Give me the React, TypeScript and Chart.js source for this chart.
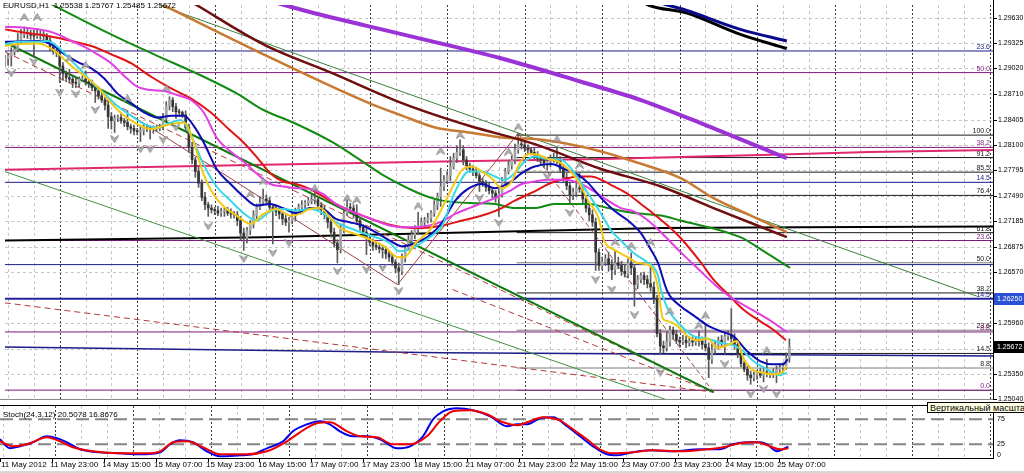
import React, { useEffect, useRef } from "react";
import { Chart, registerables } from "chart.js";

Chart.register(...registerables);

const FONT = '"Liberation Sans", Arial, sans-serif';

// ---- price model: values stored in pips above BASE ----
const BASE = 1.25;
const PIP = 0.0001;
const px = (p: number) => BASE + p * PIP;

const SYMBOL = "EURUSD,H1";
const LAST_OHLC = [1.25538, 1.25767, 1.25485, 1.25672];
const ALERT_PRICE = 1.2625;
const STOCH_TITLE = "Stoch(24,3,12) 20.5078 16.8676";
const TOOLTIP_TEXT = "Вертикальный масштаб";

// bars are H1, index 0 = 14 May 00:00
const FIRST_BAR = -17;
const FIRST_OPEN = 410;
const closes = [
  414, 417, 422, 425, 436, 443, 445, 444,
  442, 441, 442, 443, 441, 436, 428, 423,
  421, 405, 396, 391, 389, 385, 384, 389,
  389, 386, 384, 379, 375, 369, 364, 358,
  344, 339, 342, 343, 339, 337, 332, 330,
  327, 326, 327, 331, 330, 329, 330, 330,
  332, 342, 357, 364, 356, 350, 349, 346,
  331, 307, 292, 278, 264, 247, 238, 234,
  232, 231, 228, 230, 231, 228, 227, 226,
  219, 204, 198, 207, 214, 225, 235, 241,
  245, 243, 235, 231, 230, 227, 221, 217,
  219, 225, 231, 235, 238, 240, 243, 244,
  244, 237, 232, 226, 217, 205, 192, 184,
  209, 228, 235, 234, 228, 219, 211, 205,
  198, 193, 189, 187, 185, 184, 179, 175,
  169, 162, 158, 174, 186, 195, 202, 209,
  213, 217, 219, 222, 228, 238, 248, 260,
  267, 273, 284, 294, 301, 304, 292, 285,
  281, 278, 273, 266, 264, 259, 255, 252,
  246, 251, 266, 278, 285, 292, 304, 311,
  310, 306, 304, 301, 298, 294, 292, 288,
  290, 292, 293, 292, 281, 271, 261, 250,
  253, 258, 257, 245, 234, 226, 217, 181,
  165, 169, 173, 166, 160, 168, 165, 158,
  155, 168, 162, 142, 148, 153, 148, 143,
  139, 125, 83, 68, 66, 73, 87, 82,
  75, 73, 75, 72, 74, 73, 76, 74,
  70, 66, 52, 63, 70, 75, 72, 80,
  82, 77, 70, 59, 47, 40, 33, 30,
  33, 36, 33, 37, 35, 36, 34, 40,
  42, 44, 53.8, 67.2,
];
const upWick = [
  4, 3, 5, 6, 8, 6, 7, 5,
  4, 6, 8, 5, 4, 3, 5, 4,
  3, 5, 4, 3, 10, 4, 5, 3,
  4, 10, 3, 4, 3, 5, 4, 3,
  8, 5, 4, 3, 4, 3, 14, 3,
  4, 3, 5, 3, 4, 3, 3, 4,
  3, 6, 5, 4, 3, 4, 3, 2,
  5, 4, 6, 3, 5, 4, 6, 3,
  4, 3, 5, 4, 3, 4, 5, 3,
  4, 5, 6, 4, 5, 6, 4, 7,
  12, 5, 4, 3, 6, 4, 3, 5,
  4, 5, 3, 4, 5, 3, 4, 6,
  8, 3, 4, 5, 3, 4, 5, 4,
  6, 7, 9, 5, 4, 10, 4, 3,
  4, 3, 4, 3, 5, 3, 4, 3,
  4, 3, 6, 5, 4, 6, 5, 4,
  16, 5, 4, 6, 3, 5, 4, 22,
  6, 5, 12, 6, 8, 12, 5, 4,
  3, 4, 5, 3, 4, 3, 5, 4,
  3, 6, 5, 4, 6, 5, 7, 13,
  6, 5, 4, 3, 5, 4, 3, 4,
  5, 6, 7, 14, 4, 6, 5, 4,
  5, 9, 18, 3, 4, 5, 6, 5,
  4, 6, 5, 8, 6, 14, 7, 5,
  8, 5, 12, 4, 5, 3, 4, 5,
  22, 6, 4, 5, 6, 12, 5, 4,
  5, 4, 6, 5, 4, 5, 3, 10,
  5, 24, 6, 8, 5, 4, 6, 5,
  4, 31, 6, 5, 4, 3, 4, 5,
  4, 3, 5, 6, 15, 3, 5, 4,
  5, 4, 6, 9.5,
];
const downWick = [
  6, 8, 12, 4, 3, 5, 4, 6,
  5, 26, 3, 5, 6, 4, 5, 4,
  5, 20, 8, 5, 4, 6, 5, 4,
  3, 4, 5, 4, 14, 4, 3, 6,
  14, 10, 14, 4, 3, 5, 4, 6,
  5, 4, 12, 5, 4, 12, 5, 4,
  3, 4, 3, 5, 6, 8, 5, 3,
  4, 6, 5, 7, 5, 4, 6, 10,
  4, 5, 3, 4, 6, 3, 5, 4,
  6, 8, 15, 6, 5, 4, 5, 3,
  4, 5, 6, 40, 5, 6, 7, 4,
  12, 4, 6, 3, 5, 4, 3, 4,
  5, 4, 6, 5, 7, 6, 5, 16,
  4, 5, 3, 4, 6, 5, 4, 3,
  20, 4, 6, 3, 5, 10, 6, 5,
  4, 6, 16, 4, 5, 3, 4, 5,
  6, 4, 5, 3, 5, 4, 6, 12,
  5, 4, 6, 3, 5, 4, 6, 5,
  4, 5, 3, 12, 4, 5, 4, 6,
  5, 22, 4, 5, 3, 4, 5, 4,
  5, 4, 6, 3, 5, 4, 6, 5,
  8, 6, 3, 5, 4, 6, 5, 12,
  6, 5, 4, 6, 5, 7, 5, 22,
  6, 5, 4, 8, 12, 6, 4, 5,
  4, 5, 8, 26, 5, 4, 6, 5,
  5, 6, 4, 10, 6, 4, 5, 6,
  4, 5, 3, 6, 4, 5, 4, 6,
  5, 4, 22, 5, 4, 6, 5, 14,
  5, 4, 6, 5, 4, 3, 6, 8,
  4, 5, 3, 8, 4, 5, 4, 10,
  5, 6, 4, 5.3,
];

// fractal marks [bar, pip]
const fractalUp = [
  [-11, 464], [-7, 464], [3, 414], [8, 406], [21, 366], [33, 378], [59, 251], [63, 266],
  [79, 258], [89, 246], [92, 244], [111, 237], [118, 303], [124, 322], [139, 302], [142, 332],
  [154, 317], [161, 286], [172, 193], [177, 189], [183, 193], [189, 110], [198, 93], [200, 105], [219, 63],
];
const fractalDown = [
  [-15, 396], [-8, 410], [0, 373], [5, 371], [11, 352], [17, 317], [25, 305], [28, 305],
  [32, 316], [36, 331], [46, 212], [57, 173], [66, 180], [71, 192], [86, 158], [95, 160],
  [100, 162], [105, 134], [130, 246], [136, 216], [151, 272], [158, 228], [166, 148], [171, 136],
  [178, 105], [186, 36], [206, 46], [214, 10], [218, 16], [222, 10],
];

// moving averages [bar, pip]
const maYellow = [
  [-16.9, 429], [-13.8, 431], [-6.8, 432], [-1.5, 423], [2.2, 410], [4.6, 402], [7.7, 393], [11.7, 380],
  [16, 360], [20, 345], [24, 335], [28.3, 329], [32.3, 333], [38.5, 337], [41.5, 313], [44.6, 274],
  [47.7, 250], [50.8, 236], [54.8, 225], [59.1, 215], [63.1, 227], [67.1, 233], [71.4, 225], [74.5, 227],
  [77.5, 233], [80.6, 234], [83.7, 223], [86.8, 210], [89.8, 205], [92.9, 201], [96.9, 195], [100.9, 187],
  [104.6, 175], [106.8, 175], [110.2, 192], [114.5, 207], [117.5, 227], [121.5, 258], [124.6, 280], [127.7, 284],
  [130.8, 278], [133.8, 270], [136.9, 258], [140, 266], [142.2, 286], [145.2, 299], [148.3, 298], [151.4, 293],
  [154.5, 290], [157.5, 281], [160.6, 266], [163.7, 243], [166.8, 223], [168.6, 195], [171.7, 184], [176, 175],
  [179.1, 168], [183.1, 164], [185.2, 140], [186.8, 101], [188.3, 98], [191.4, 92], [194.5, 80], [197.5, 75],
  [200.6, 77], [203.7, 66], [206.8, 69], [209.8, 74], [211.7, 54], [214.8, 39], [217.8, 36], [220.9, 34],
  [223.7, 36], [225.2, 44],
];
const maCyan = [
  [-16.9, 431], [-12.9, 434], [-6.8, 434], [-3.7, 435], [-0.6, 428], [3.7, 411], [6.8, 399], [9.8, 386],
  [13.8, 372], [17.8, 357], [22.2, 345], [26.2, 335], [30.2, 331], [34.5, 337], [37.5, 340], [40.6, 322],
  [44.6, 286], [48.6, 260], [52.9, 243], [56.9, 228], [60.9, 219], [65.2, 230], [69.2, 233], [73.2, 231],
  [77.5, 233], [81.5, 228], [85.5, 217], [89.8, 210], [93.8, 204], [97.8, 199], [102.2, 192], [105.2, 182],
  [108.3, 184], [112.3, 193], [116.3, 204], [118.5, 213], [122.5, 254], [126.8, 278], [130.8, 278], [134.8, 272],
  [137.8, 268], [140.9, 276], [144, 290], [147.1, 296], [151.4, 293], [155.4, 292], [158.5, 281], [161.5, 264],
  [164.6, 246], [167.7, 227], [170.8, 207], [173.8, 195], [177.8, 180], [182.2, 168], [185.2, 154], [186.2, 136],
  [188.3, 113], [192.3, 93], [196.3, 80], [200.6, 77], [204.6, 72], [208.6, 69], [211.7, 62], [214.8, 50],
  [219.1, 40], [223.1, 33], [225.2, 36],
];
const maBlue = [
  [-16.9, 434], [-6.8, 435], [-2.5, 431], [1.5, 419], [5.5, 410], [9.8, 402], [13.8, 390], [17.8, 372],
  [22.2, 360], [26.2, 349], [30.2, 343], [34.5, 345], [38.5, 345], [41.5, 333], [44.6, 313], [48.6, 281],
  [52.9, 263], [56.9, 248], [60.9, 237], [65.2, 239], [69.2, 234], [73.2, 228], [77.5, 234], [81.5, 233],
  [85.5, 221], [89.8, 217], [93.8, 213], [97.8, 205], [102.2, 195], [106.2, 188], [110.2, 192], [114.5, 201],
  [118.5, 217], [122.5, 243], [126.8, 258], [130.8, 263], [134.8, 258], [139.1, 264], [143.1, 276], [147.1, 284],
  [152.3, 287], [156.3, 281], [160.6, 274], [163.7, 264], [167.7, 246], [171.7, 231], [176, 219], [180, 204],
  [183.1, 184], [185.2, 169], [188.3, 133], [192.3, 116], [196.3, 105], [200.6, 93], [204.6, 86], [208.6, 80],
  [212.9, 62], [216.9, 50], [220.9, 46], [224, 46], [225.5, 52],
];
const maMagenta = [
  [-16.9, 452], [-10.8, 451], [-3.7, 447], [-0.6, 443], [3.7, 435], [7.7, 428], [11.7, 419], [16, 408],
  [20, 393], [24, 380], [28.3, 376], [32.3, 375], [36.3, 370], [40.6, 364], [44.6, 349], [48.6, 319],
  [52.9, 302], [56.9, 290], [60.9, 276], [65.2, 263], [69.2, 260], [73.2, 258], [77.5, 257], [81.5, 251],
  [85.5, 239], [89.8, 231], [93.8, 225], [97.8, 219], [102.2, 213], [106.2, 211], [110.2, 211], [114.5, 213],
  [118.5, 218], [122.5, 227], [126.8, 234], [130.8, 240], [134.8, 246], [139.1, 254], [143.1, 263], [147.1, 266],
  [151.4, 268], [156.3, 268], [161.5, 263], [165.5, 254], [169.8, 243], [173.8, 234], [177.8, 230], [182.2, 219],
  [186.2, 205], [192.3, 181], [198.5, 158], [203.7, 139], [207.7, 127], [214.8, 111], [220, 99], [225.2, 85],
];
const maRed = [
  [-16.9, 449], [-10.8, 445], [-3.7, 441], [3.7, 435], [9.8, 429], [16, 419], [22.2, 408], [28.3, 392],
  [34.5, 378], [40.6, 366], [46.8, 349], [52.9, 327], [56.9, 313], [60.9, 296], [65.2, 276], [69.2, 266],
  [73.2, 263], [77.5, 257], [81.5, 248], [85.5, 239], [89.8, 231], [93.8, 225], [97.8, 219], [102.2, 214],
  [106.2, 211], [112.3, 210], [118.5, 213], [124.6, 219], [130.8, 225], [136.9, 234], [140.9, 243], [147.1, 254],
  [151.4, 263], [155.4, 268], [160.6, 272], [164.6, 272], [167.7, 268], [171.7, 260], [176, 251], [180, 239],
  [184, 227], [188.3, 213], [192.3, 198], [198.5, 169], [202.5, 148], [206.8, 131], [211.7, 112], [216.9, 98],
  [220.9, 88], [224.9, 75],
];
const maGreen = [
  [-16.9, 508], [13.8, 447], [29.2, 419], [44.6, 392], [54.8, 372], [63.1, 352], [72.3, 337], [84.6, 313],
  [93.8, 290], [100, 274], [108.3, 257], [114.5, 247], [118.5, 243], [126.8, 240], [134.8, 239], [140.9, 234],
  [147.1, 234], [153.2, 239], [163.7, 239], [169.8, 234], [177.8, 228], [186.2, 225], [192.3, 219], [210.8, 199],
  [218.5, 181], [226.2, 162],
];
const maBrown = [
  [29.2, 509], [42.5, 478], [63.1, 431], [84.6, 396], [106.2, 360], [126.8, 333], [147.1, 311], [167.7, 281],
  [186.2, 260], [202.5, 234], [225.2, 199],
];
const maOrange = [
  [13.8, 514], [32.3, 478], [63.1, 419], [96, 360], [106.2, 345], [116.3, 331], [126.8, 325], [136.9, 319],
  [147.1, 317], [157.5, 311], [167.7, 302], [177.8, 290], [192.3, 270], [202.5, 246], [212.9, 227], [225.2, 205],
];
const maPurple = [
  [60, 489], [75.4, 472], [106.2, 443], [136.9, 414], [161.5, 386], [180, 364], [200.6, 333], [225.2, 294],
];
const maNavyLong = [[177.8, 490], [188.5, 478], [194, 472], [210.8, 449], [225.2, 435]];
const maBlackLong = [[177.8, 489], [182.5, 478], [194, 469], [210.8, 443], [225.2, 426]];

// slowly stepping levels across the whole window [bar, pip]
const crimsonLevel = [[-17, 280], [63.1, 286], [118.5, 290], [167.7, 293], [198.5, 296], [229.2, 299], [250.8, 301.5], [289.1, 304]];
const blackLevel = [[-17, 195], [63.1, 199], [118.5, 204], [186.2, 210], [229.2, 211], [289.1, 212]];
const navyLevel = [[-17, 67], [118.5, 60], [289.1, 56]];

// trend lines [bar, pip]
const trendGreenThinUpper = [[30.8, 478], [284.1, 128]];
const trendGreenThinLower = [[-17, 278], [188.3, 3]];
const trendGreenThick = [[-17, 433.5], [202.5, 12.6]];
const fanRedA = [[-17, 120], [202.5, 12.6]];
const fanRedB = [[-17, 422], [202.5, 12.6]];
const fanRedC = [[121.7, 136], [202.5, 12.6]];
const zigzagSolid = [[20, 351], [104.6, 142], [142, 324]];
const zigzagDashed = [[142, 324], [202.5, 12.6]];

// Fibonacci sets (pips)
const fibNavyLevels = [423, 265, 166];
const fibPurpleLevels = [397, 307, 195, 85, 15];
const fibB_HIGH = 321.8;
const fibB_LOW = 14.6;
const fibB_START = 141.5;
const fibB_Levels = [0, 8.8, 14.5, 23.6, 38.2, 50, 61.8, 76.4, 85.5, 91.2, 100];
const fibB_Gray = [0, 8.8, 23.6, 50];
const fibLabels: [string, number, string][] = [
  ["23.6", 423, "navy"], ["50.0", 397, "purple"], ["100.0", 321.8, "black"], ["38.2", 307, "purple"],
  ["91.2", 294.4, "black"], ["85.5", 277.9, "black"], ["14.5", 265, "navy"], ["76.4", 249.6, "black"],
  ["61.8", 203.6, "black"], ["23.6", 195, "purple"], ["50.0", 168.2, "black"], ["38.2", 132.3, "black"],
  ["14.5", 125, "navy"], ["23.6", 86.9, "black"], ["8.8", 85, "purple"], ["14.5", 59.2, "black"],
  ["8.8", 41.6, "black"], ["0.0", 15, "purple"],
];

// stochastic [bar, value]
const stochK = [
  [-16.95, 35], [-13.9, 17], [-10.8, 21], [-6.8, 29], [-2.5, 41], [0.6, 37], [3.7, 29], [7.7, 15],
  [13.9, 9], [20, 7], [26.2, 5], [32.4, 9], [35.4, 25], [38.5, 33], [42.5, 29], [46.8, 11],
  [50.8, 1], [57, 3], [61, 5], [65.3, 17], [70.3, 31], [73.3, 51], [77.7, 65], [81.7, 71],
  [84.7, 65], [87.8, 51], [91.8, 41], [96.1, 41], [100.2, 35], [105.4, 17], [109.4, 21], [113.4, 41],
  [116.5, 75], [119.6, 91], [123.9, 97], [128.8, 93], [134.1, 81], [139.3, 61], [142.4, 65], [145.5, 65],
  [149.5, 77], [153.5, 79], [157.8, 61], [161.8, 41], [165.8, 21], [170.1, 5], [173.2, 3], [178.1, 9],
  [183.4, 13], [190.4, 11], [198.8, 15], [204.9, 15], [208.9, 25], [213.3, 29], [217.3, 29], [219.4, 25],
  [222.5, 11], [226, 20.5],
];
const stochD = [
  [-16.95, 31], [-12.9, 21], [-8.6, 25], [-2.5, 39], [1.5, 31], [5.5, 19], [11.7, 11], [20, 7],
  [28.4, 7], [32.4, 11], [36.4, 29], [40.7, 31], [45.6, 19], [50.8, 5], [59.2, 5], [65.3, 11],
  [71.5, 31], [75.5, 49], [80.7, 67], [84.7, 69], [90, 51], [94, 41], [99.2, 39], [104.2, 25],
  [109.4, 25], [114.6, 41], [118.6, 71], [122.6, 91], [127.9, 93], [133.1, 85], [138.1, 69], [142.4, 63],
  [145.5, 69], [150.4, 79], [155.6, 73], [159.6, 55], [163.9, 35], [167.9, 15], [171.9, 7], [178.1, 9],
  [184.3, 13], [192.6, 11], [200.9, 15], [205.9, 19], [211.1, 27], [216.3, 29], [220.3, 21], [223.4, 15],
  [226, 16.9],
];
const stochLevels = [75, 25];
const stochAxisLabels: [string, number][] = [["75", 75], ["25", 25], ["0", 4]];

// axes
const yTicks = [1.2963, 1.29325, 1.2902, 1.2871, 1.28405, 1.281, 1.27795, 1.2749, 1.27185, 1.26875, 1.2657, 1.2626, 1.2596, 1.2565, 1.2535, 1.2504];
const dateLabels = [
  "11 May 2012", "11 May 23:00", "14 May 15:00", "15 May 07:00", "15 May 23:00", "16 May 15:00",
  "17 May 07:00", "17 May 23:00", "18 May 15:00", "21 May 07:00", "21 May 23:00", "22 May 15:00",
  "23 May 07:00", "23 May 23:00", "24 May 15:00", "25 May 07:00",
];
const dateBars = [-17, -1, 15, 31, 47, 63, 79, 95, 111, 127, 143, 159, 175, 191, 207, 223];

// view window
const X_MIN = -16.95;
const X_MAX = 289.06;
const Y_MAX = 1.297833;
const Y_MIN = 1.250434;
const S_MIN = -2.4;
const S_MAX = 101.6;

const COLORS: Record<string, string> = { navy: "#1c1c8a", purple: "#7e1a7e", black: "#1a1a1a" };

function lineDs(pts: number[][], color: string, width: number, order: number, extra: any = {}, conv = true) {
  return {
    type: "line",
    data: pts.map(([b, v]) => ({ x: b, y: conv ? px(v) : v })),
    borderColor: color,
    borderWidth: width,
    pointRadius: 0,
    fill: false,
    order,
    ...extra,
  };
}

function drawVGrid(ctx: CanvasRenderingContext2D, xs: any, top: number, bottom: number) {
  ctx.lineWidth = 1;
  for (let b = -16; b <= X_MAX; b += 8) {
    const x = Math.round(xs.getPixelForValue(b)) + 0.5;
    const sep = b % 24 === 0;
    ctx.strokeStyle = sep ? "#3a3a3a" : "#c6c6c6";
    ctx.setLineDash(sep ? [2, 2] : [3, 3]);
    ctx.beginPath();
    ctx.moveTo(x, top);
    ctx.lineTo(x, bottom);
    ctx.stroke();
  }
  ctx.setLineDash([]);
}

function arrowCanvas(up: boolean) {
  const c = document.createElement("canvas");
  c.width = 9;
  c.height = 8;
  const g = c.getContext("2d")!;
  g.fillStyle = "#b8b8b8";
  g.strokeStyle = "#8a8a8a";
  g.lineWidth = 1;
  g.beginPath();
  if (up) {
    g.moveTo(4.5, 0.5); g.lineTo(8.5, 7.5); g.lineTo(4.5, 5); g.lineTo(0.5, 7.5);
  } else {
    g.moveTo(4.5, 7.5); g.lineTo(8.5, 0.5); g.lineTo(4.5, 3); g.lineTo(0.5, 0.5);
  }
  g.closePath();
  g.fill();
  g.stroke();
  return c;
}

export default function App() {
  const mainRef = useRef<HTMLCanvasElement>(null);
  const stochRef = useRef<HTMLCanvasElement>(null);

  useEffect(() => {
    document.body.style.margin = "0";
    // candles
    const wickData: any[] = [];
    const bodyData: any[] = [];
    const bodyColors: string[] = [];
    let prev = FIRST_OPEN;
    closes.forEach((c, i) => {
      const o = prev;
      const b = FIRST_BAR + i;
      const hi = Math.max(o, c) + upWick[i];
      const lo = Math.min(o, c) - downWick[i];
      wickData.push({ x: b, y: [px(lo), px(hi)] });
      bodyData.push({ x: b, y: [px(Math.min(o, c)), px(Math.max(o, c))] });
      bodyColors.push(c >= o ? "#a4a4a4" : "#353535");
      prev = c;
    });

    const upImg = arrowCanvas(true);
    const dnImg = arrowCanvas(false);

    const datasets: any[] = [];
    // horizontal Fibonacci / level lines
    fibNavyLevels.forEach((p) => datasets.push(lineDs([[X_MIN, p], [X_MAX, p]], "#1c1c8a", 1, 100)));
    fibPurpleLevels.forEach((p) => datasets.push(lineDs([[X_MIN, p], [X_MAX, p]], "#7e1a7e", 1, 100)));
    fibB_Levels.forEach((lv) => {
      const p = fibB_LOW + ((fibB_HIGH - fibB_LOW) * lv) / 100;
      datasets.push(lineDs([[fibB_START, p], [X_MAX, p]], fibB_Gray.includes(lv) ? "#7a7a7a" : "#1a1a1a", 1, 100));
    });
    datasets.push(lineDs([[X_MIN, (ALERT_PRICE - BASE) / PIP], [X_MAX, (ALERT_PRICE - BASE) / PIP]], "#2222a0", 2, 99));
    datasets.push(lineDs(crimsonLevel, "#e0286e", 2, 99));
    datasets.push(lineDs(blackLevel, "#000000", 2, 99));
    datasets.push(lineDs(navyLevel, "#1c1c8a", 1.5, 99));
    // trend lines
    datasets.push(lineDs(trendGreenThinUpper, "#3b7f3b", 1, 98));
    datasets.push(lineDs(trendGreenThinLower, "#3f943f", 1, 98));
    datasets.push(lineDs(fanRedA, "#b23a3a", 1, 98, { borderDash: [6, 4] }));
    datasets.push(lineDs(fanRedB, "#b23a3a", 1, 98, { borderDash: [6, 4] }));
    datasets.push(lineDs(fanRedC, "#b23a3a", 1, 98, { borderDash: [6, 4] }));
    datasets.push(lineDs(zigzagSolid, "#a04040", 1, 98));
    datasets.push(lineDs(zigzagDashed, "#a04040", 1, 98, { borderDash: [5, 3] }));
    datasets.push(lineDs(trendGreenThick, "#0b7a0b", 2, 97));
    // candles
    datasets.push({ type: "bar", data: wickData, backgroundColor: "#5a5a5a", barThickness: 1, grouped: false, order: 60, borderWidth: 0 });
    datasets.push({ type: "bar", data: bodyData, backgroundColor: bodyColors, barThickness: 2, grouped: false, order: 59, borderWidth: 0, minBarLength: 1 });
    // moving averages
    const ma = (pts: number[][], color: string, w: number, order: number) =>
      lineDs(pts, color, w, order, { cubicInterpolationMode: "monotone" });
    datasets.push(ma(maPurple, "#9a32d6", 4, 46));
    datasets.push(ma(maNavyLong, "#0a0a8c", 3, 46));
    datasets.push(ma(maBlackLong, "#000000", 3, 46));
    datasets.push(ma(maOrange, "#c97a32", 2.5, 45));
    datasets.push(ma(maBrown, "#6e0e0e", 2.5, 44));
    datasets.push(ma(maGreen, "#138a13", 2, 43));
    datasets.push(ma(maRed, "#e01414", 2, 42));
    datasets.push(ma(maMagenta, "#e23ee2", 2, 41));
    datasets.push(ma(maBlue, "#0c0cb4", 2, 40));
    datasets.push(ma(maCyan, "#3ad8e6", 2, 39));
    datasets.push(ma(maYellow, "#f2c814", 2, 38));
    // fractals
    datasets.push({ type: "line", data: fractalUp.map(([b, p]) => ({ x: b, y: px(p) })), showLine: false, pointStyle: upImg, pointRadius: 4, order: 10 });
    datasets.push({ type: "line", data: fractalDown.map(([b, p]) => ({ x: b, y: px(p) })), showLine: false, pointStyle: dnImg, pointRadius: 4, order: 10 });

    const mainDecor = {
      id: "mainDecor",
      beforeDatasetsDraw(chart: any) {
        const { ctx, chartArea: a } = chart;
        const xs = chart.scales.x;
        const ys = chart.scales.y;
        ctx.save();
        ctx.beginPath();
        ctx.rect(a.left, a.top, a.right - a.left, a.bottom - a.top);
        ctx.clip();
        drawVGrid(ctx, xs, a.top, a.bottom);
        ctx.strokeStyle = "#c6c6c6";
        ctx.setLineDash([3, 3]);
        for (const t of yTicks) {
          const y = Math.round(ys.getPixelForValue(t)) + 0.5;
          ctx.beginPath();
          ctx.moveTo(a.left, y);
          ctx.lineTo(a.right, y);
          ctx.stroke();
        }
        ctx.restore();
      },
      afterDraw(chart: any) {
        const { ctx, chartArea: a } = chart;
        const ys = chart.scales.y;
        ctx.save();
        ctx.setLineDash([]);
        // borders
        ctx.strokeStyle = "#000";
        ctx.lineWidth = 1;
        ctx.beginPath();
        ctx.moveTo(a.right + 0.5, 0);
        ctx.lineTo(a.right + 0.5, a.bottom + 1);
        ctx.stroke();
        ctx.strokeStyle = "#8a8a8a";
        ctx.beginPath();
        ctx.moveTo(0, a.bottom + 0.5);
        ctx.lineTo(a.right, a.bottom + 0.5);
        ctx.stroke();
        // fib labels
        ctx.font = `7px ${FONT}`;
        ctx.textAlign = "right";
        ctx.textBaseline = "alphabetic";
        for (const [t, p, c] of fibLabels) {
          const y = ys.getPixelForValue(px(p));
          ctx.fillStyle = COLORS[c];
          ctx.fillText(t, a.right - 3, y - 2);
        }
        // axis ticks + labels
        ctx.textAlign = "left";
        ctx.textBaseline = "middle";
        ctx.font = `7px ${FONT}`;
        ctx.strokeStyle = "#000";
        for (const t of yTicks) {
          const y = Math.round(ys.getPixelForValue(t)) + 0.5;
          ctx.beginPath();
          ctx.moveTo(a.right, y);
          ctx.lineTo(a.right + 4, y);
          ctx.stroke();
          ctx.fillStyle = "#000";
          ctx.fillText(t.toFixed(5), a.right + 5, y);
        }
        // highlighted price boxes
        const box = (price: number, bg: string) => {
          const y = ys.getPixelForValue(price);
          ctx.fillStyle = bg;
          ctx.fillRect(a.right + 1, Math.round(y) - 6, 31, 12);
          ctx.fillStyle = "#fff";
          ctx.fillText(price.toFixed(5), a.right + 4, Math.round(y));
        };
        box(ALERT_PRICE, "#2a50d6");
        box(LAST_OHLC[3], "#000000");
        // title
        ctx.fillStyle = "#000";
        ctx.font = `8px ${FONT}`;
        ctx.fillText(`${SYMBOL}  ${LAST_OHLC.map((v) => v.toFixed(5)).join(" ")}`, 3, 6);
        ctx.restore();
      },
    };

    const main = new Chart(mainRef.current!, {
      type: "line",
      data: { datasets },
      options: {
        animation: false,
        responsive: false,
        maintainAspectRatio: false,
        events: [],
        layout: { padding: { left: 0, right: 31, top: 0, bottom: 2 } },
        plugins: { legend: { display: false }, tooltip: { enabled: false } },
        scales: {
          x: { type: "linear", min: X_MIN, max: X_MAX, display: false, offset: false },
          y: { type: "linear", min: Y_MIN, max: Y_MAX, display: false },
        },
      },
      plugins: [mainDecor],
    } as any);

    const stochDecor = {
      id: "stochDecor",
      beforeDatasetsDraw(chart: any) {
        const { ctx, chartArea: a } = chart;
        ctx.save();
        drawVGrid(ctx, chart.scales.x, a.top, a.bottom);
        ctx.restore();
      },
      afterDraw(chart: any) {
        const { ctx, chartArea: a } = chart;
        const xs = chart.scales.x;
        const ys = chart.scales.y;
        ctx.save();
        ctx.setLineDash([]);
        ctx.strokeStyle = "#000";
        ctx.lineWidth = 1;
        ctx.beginPath();
        ctx.moveTo(0, a.top - 0.5);
        ctx.lineTo(a.right + 1, a.top - 0.5);
        ctx.moveTo(a.right + 0.5, a.top - 1);
        ctx.lineTo(a.right + 0.5, a.bottom + 1);
        ctx.moveTo(0, a.bottom + 0.5);
        ctx.lineTo(a.right + 1, a.bottom + 0.5);
        ctx.stroke();
        ctx.font = `7px ${FONT}`;
        ctx.fillStyle = "#000";
        ctx.textAlign = "left";
        ctx.textBaseline = "middle";
        for (const [t, v] of stochAxisLabels) ctx.fillText(t, a.right + 4, ys.getPixelForValue(v));
        ctx.font = `8px ${FONT}`;
        ctx.fillText(STOCH_TITLE, 3, a.top + 9);
        // date labels
        dateLabels.forEach((t, i) => {
          const x = xs.getPixelForValue(dateBars[i]);
          ctx.beginPath();
          ctx.moveTo(Math.round(x) + 0.5, a.bottom + 1);
          ctx.lineTo(Math.round(x) + 0.5, a.bottom + 4);
          ctx.stroke();
          ctx.fillText(t, Math.max(1, x - 1.5), a.bottom + 7);
        });
        ctx.restore();
      },
    };

    const stoch = new Chart(stochRef.current!, {
      type: "line",
      data: {
        datasets: [
          ...stochLevels.map((lv) =>
            lineDs([[X_MIN, lv], [X_MAX, lv]], "#858585", 2, 20, { borderDash: [13, 6] }, false)
          ),
          lineDs(stochK, "#0000f0", 2, 11, { cubicInterpolationMode: "monotone" }, false),
          lineDs(stochD, "#f00000", 2, 10, { cubicInterpolationMode: "monotone" }, false),
        ],
      },
      options: {
        animation: false,
        responsive: false,
        maintainAspectRatio: false,
        events: [],
        layout: { padding: { left: 0, right: 31, top: 2, bottom: 15 } },
        plugins: { legend: { display: false }, tooltip: { enabled: false } },
        scales: {
          x: { type: "linear", min: X_MIN, max: X_MAX, display: false },
          y: { type: "linear", min: S_MIN, max: S_MAX, display: false },
        },
      },
      plugins: [stochDecor],
    } as any);

    return () => {
      main.destroy();
      stoch.destroy();
    };
  }, []);

  return (
    <div style={{ position: "fixed", left: 0, top: 0, width: 1024, height: 473, overflow: "hidden", background: "#fff" }}>
      <canvas ref={mainRef} width={1024} height={404} style={{ position: "absolute", left: 0, top: 0 }} />
      <canvas ref={stochRef} width={1024} height={69} style={{ position: "absolute", left: 0, top: 404 }} />
      <div style={{ position: "absolute", left: 0, top: 471, width: 1024, height: 2, background: "#d8d8d8" }} />
      <div
        style={{
          position: "absolute", left: 927, top: 402, height: 9, lineHeight: "9px", padding: "0 2px",
          background: "#ffffe1", border: "1px solid #000", font: `9px ${FONT}`, whiteSpace: "nowrap", color: "#000",
        }}
      >
        {TOOLTIP_TEXT}
      </div>
    </div>
  );
}
